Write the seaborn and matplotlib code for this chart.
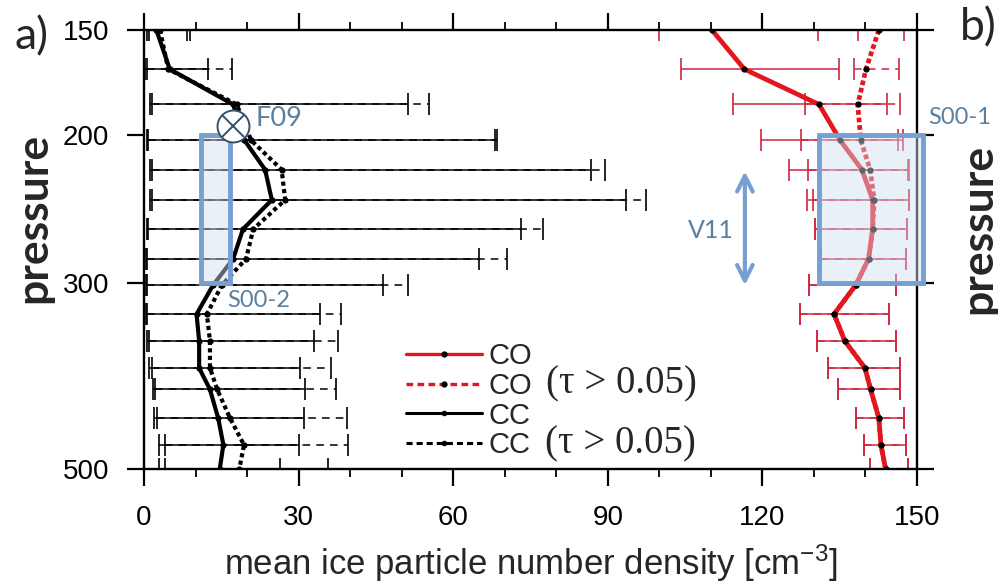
import numpy as np
import matplotlib
matplotlib.use("Agg")
import matplotlib.pyplot as plt
import seaborn as sns
from matplotlib.lines import Line2D
from matplotlib.patches import Rectangle
from matplotlib.ticker import FixedLocator, MultipleLocator, NullLocator

# Pressure levels [hPa]
pressure = [150, 167, 184, 203, 220, 239, 259, 281, 302, 327, 352, 379, 402, 435, 468, 500]

# Mean ice particle number density [cm^-3] with ranges (lower / upper bound)
cc_mean = [2.4, 5.0, 17.3, 19.5, 23.5, 24.8, 19.2, 17.3, 13.4, 10.2, 10.7, 10.7, 12.8, 14.4, 15.4, 14.7]
cc_lo = [0.5, 0.2, 1.2, 0.5, 1.2, 1.2, 0.5, 0.4, 0.4, 0.3, 0.6, 1.0, 1.7, 2.0, 3.0, 3.0]
cc_hi = [8.3, 12.4, 51.2, 68.1, 86.7, 93.5, 73.2, 65.0, 46.4, 34.2, 32.9, 30.3, 31.2, 31.0, 30.1, 26.4]

cc_tau_mean = [3.1, 4.7, 18.0, 20.8, 26.7, 27.4, 21.2, 19.8, 15.1, 12.2, 12.8, 12.8, 14.2, 16.7, 19.4, 18.5]
cc_tau_lo = [1.0, 0.5, 1.5, 0.8, 1.5, 1.5, 0.8, 0.6, 0.6, 0.5, 1.0, 1.5, 2.1, 2.6, 4.1, 4.1]
cc_tau_hi = [8.9, 17.0, 55.3, 68.5, 89.5, 97.5, 77.5, 70.4, 51.3, 38.2, 37.7, 36.2, 37.2, 39.3, 39.6, 35.8]

co_mean = [110.2, 116.5, 131.0, 135.1, 139.3, 141.4, 141.4, 140.6, 138.1, 133.9, 136.0, 139.9, 141.0, 142.6, 143.0, 143.9]
co_lo = [100.0, 104.2, 114.3, 119.7, 125.2, 128.6, 130.2, 131.3, 129.1, 127.3, 130.5, 132.8, 134.6, 138.1, 139.7, 140.9]
co_hi = [130.7, 134.8, 144.1, 146.4, 148.5, 148.5, 148.0, 147.8, 145.9, 144.6, 145.9, 146.7, 146.7, 147.5, 147.8, 148.2]

co_tau_mean = [142.6, 140.1, 138.5, 139.1, 140.9, 141.7, 141.4, 140.6, 138.1, 133.9, 136.0, 139.9, 141.0, 142.6, 143.0, 143.9]
co_tau_lo = [138.6, 137.8, 128.3, 127.5, 128.8, 129.9, 130.2, 131.3, 129.1, 127.3, 130.5, 132.8, 134.6, 138.1, 139.7, 140.9]
co_tau_hi = [147.5, 146.6, 146.7, 147.2, 148.3, 148.5, 148.0, 147.8, 145.9, 144.6, 145.9, 146.7, 146.7, 147.5, 147.8, 148.2]

# Literature ranges
s00_2_range = (11.1, 16.7)      # x range of S00-2 box, 200-300 hPa
s00_1_range = (130.9, 151.2)    # x range of S00-1 box, 200-300 hPa
box_pressure = (200, 300)
f09_point = (17.3, 195)
v11_x = 116.6
v11_pressure = (221, 302)

y_ticks = [150, 200, 300, 500]
x_ticks = [0, 30, 60, 90, 120, 150]
legend_labels = ["CO", "CO", "CC", "CC"]
tau_label = "(\u03c4 > 0.05)"

RED = "#e3161f"
RED_BAR = "#cc2840"
BLUE = "#76a0d2"
BLUE_TXT = "#5a80a0"

sns.set_theme(style="white")
plt.rcParams["font.family"] = ["Liberation Sans", "DejaVu Sans"]
plt.rcParams["mathtext.fontset"] = "custom"
plt.rcParams["mathtext.rm"] = "Liberation Sans"
plt.rcParams["mathtext.it"] = "Liberation Sans"

W, H = 998, 584
fig = plt.figure(figsize=(W / 100, H / 100), dpi=100)
fig.patch.set_facecolor("white")


def fx(px):
    return px / W


def fy(py):
    return 1 - py / H


ax = fig.add_axes([fx(144), fy(469), fx(917) - fx(144), fy(30) - fy(469)])
ax.set_facecolor("white")
ax.set_yscale("log")


def bars(mean, lo, hi, color, dashed):
    m = np.asarray(mean)
    err = np.vstack([m - np.asarray(lo), np.asarray(hi) - m])
    eb = ax.errorbar(mean, pressure, xerr=err, fmt="none", ecolor=color,
                     elinewidth=1.1, capsize=8, capthick=1.2, zorder=2)
    if dashed:
        eb[2][0].set_linestyle((0, (5, 4)))


# range bars: dashed (tau > 0.05) underneath, solid on top
bars(cc_tau_mean, cc_tau_lo, cc_tau_hi, "black", True)
bars(cc_mean, cc_lo, cc_hi, "black", False)
bars(co_tau_mean, co_tau_lo, co_tau_hi, RED_BAR, True)
bars(co_mean, co_lo, co_hi, RED_BAR, False)

line_kw = dict(orient="y", sort=True, estimator=None, marker="o", markersize=4.5,
               markerfacecolor="black", markeredgecolor="black", markeredgewidth=0,
               ax=ax, zorder=3)
sns.lineplot(x=cc_tau_mean, y=pressure, color="black", lw=3.0,
             linestyle=(0, (1.0, 0.8)), **line_kw)
sns.lineplot(x=cc_mean, y=pressure, color="black", lw=3.0, **line_kw)
sns.lineplot(x=co_tau_mean, y=pressure, color=RED, lw=3.4,
             linestyle=(0, (1.0, 0.6)), **line_kw)
sns.lineplot(x=co_mean, y=pressure, color=RED, lw=3.4, **line_kw)

# literature boxes
for x0, x1 in (s00_2_range, s00_1_range):
    ax.add_patch(Rectangle((x0, box_pressure[0]), x1 - x0, box_pressure[1] - box_pressure[0],
                           facecolor=(0.82, 0.87, 0.94, 0.45), edgecolor=BLUE,
                           lw=3.5, zorder=4, clip_on=False))

ax.plot([f09_point[0]], [f09_point[1]], marker="o", markersize=23, markerfacecolor="white",
        markeredgecolor="#35506c", markeredgewidth=1.4, zorder=5, clip_on=False)
ax.plot([f09_point[0]], [f09_point[1]], marker="x", markersize=16,
        markeredgecolor="#35506c", markeredgewidth=1.4, zorder=6, clip_on=False)

ax.annotate("", xy=(v11_x, v11_pressure[0]), xytext=(v11_x, v11_pressure[1]),
            arrowprops=dict(arrowstyle="<->", color=BLUE, lw=3, mutation_scale=28,
                            shrinkA=0, shrinkB=0), zorder=5)

ann_font = ["Lato", "DejaVu Sans"]
fig.text(fx(255), fy(118), "F09", color=BLUE_TXT, fontsize=19.5, family=ann_font, va="center")
fig.text(fx(227), fy(300), "S00-2", color=BLUE_TXT, fontsize=17, family=ann_font, va="center")
fig.text(fx(928), fy(118), "S00-1", color=BLUE_TXT, fontsize=17, family=ann_font, va="center")
fig.text(fx(734), fy(230), "V11", color=BLUE_TXT, fontsize=18, family=ann_font,
         va="center", ha="right")

fig.text(fx(32), fy(37), "a)", fontsize=32, family=ann_font, ha="center", va="center")
fig.text(fx(978), fy(28), "b)", fontsize=32, family=ann_font, ha="center", va="center")
fig.text(fx(33), fy(218), "pressure", fontsize=32, family=ann_font, weight="bold",
         rotation=90, ha="center", va="center")
fig.text(fx(978), fy(229), "pressure", fontsize=32, family=ann_font, weight="bold",
         rotation=90, ha="center", va="center")

# axes, ticks and spines
ax.set_xlim(0, 150)
ax.set_ylim(500, 150)
ax.xaxis.set_major_locator(FixedLocator(x_ticks))
ax.xaxis.set_minor_locator(MultipleLocator(10))
ax.set_xticklabels([str(v) for v in x_ticks])
ax.yaxis.set_major_locator(FixedLocator(y_ticks))
ax.yaxis.set_minor_locator(NullLocator())
ax.set_yticklabels([str(v) for v in y_ticks])
ax.tick_params(axis="both", which="major", direction="out", length=12, width=1.6,
               labelsize=20, color="black", labelcolor="black")
ax.tick_params(axis="x", which="major", pad=14, top=True, bottom=True)
ax.tick_params(axis="x", which="minor", direction="out", length=6, width=1.3,
               top=True, bottom=True, color="black")
ax.tick_params(axis="y", which="major", pad=13, left=True, right=True)
for s in ax.spines.values():
    s.set_visible(True)
    s.set_color("black")
    s.set_linewidth(1.7)
ax.set_ylabel("")
ax.set_xlabel("mean ice particle number density [cm$^{-3}$]", fontsize=25, labelpad=8)

# legend
handles = [
    Line2D([], [], color=RED, lw=2.4, marker="o", markersize=4.5, markerfacecolor="black",
           markeredgewidth=0),
    Line2D([], [], color=RED, lw=2.4, linestyle=(0, (2, 1.3)), marker="o", markersize=4.5,
           markerfacecolor="black", markeredgewidth=0),
    Line2D([], [], color="black", lw=2.2, marker="o", markersize=4.0, markerfacecolor="black",
           markeredgewidth=0),
    Line2D([], [], color="black", lw=2.2, linestyle=(0, (2, 1.3)), marker="o", markersize=4.0,
           markerfacecolor="black", markeredgewidth=0),
]
leg = ax.legend(handles, legend_labels, loc="upper left", bbox_to_anchor=(fx(406), fy(342)),
                bbox_transform=fig.transFigure, frameon=False, fontsize=21,
                handlelength=2.6, handletextpad=0.24, labelspacing=0.06, borderpad=0,
                borderaxespad=0)

fig.canvas.draw()
renderer = fig.canvas.get_renderer()
for i in (1, 3):
    t = leg.get_texts()[i]
    bb = t.get_window_extent(renderer)
    bx, by = t.get_transform().transform(t.get_position())
    fig.text(bb.x1 / W + fx(14), by / H, tau_label, fontsize=28,
             family=["Liberation Serif", "DejaVu Serif"], va="baseline", ha="left")

fig.savefig("out.png", dpi=100)
